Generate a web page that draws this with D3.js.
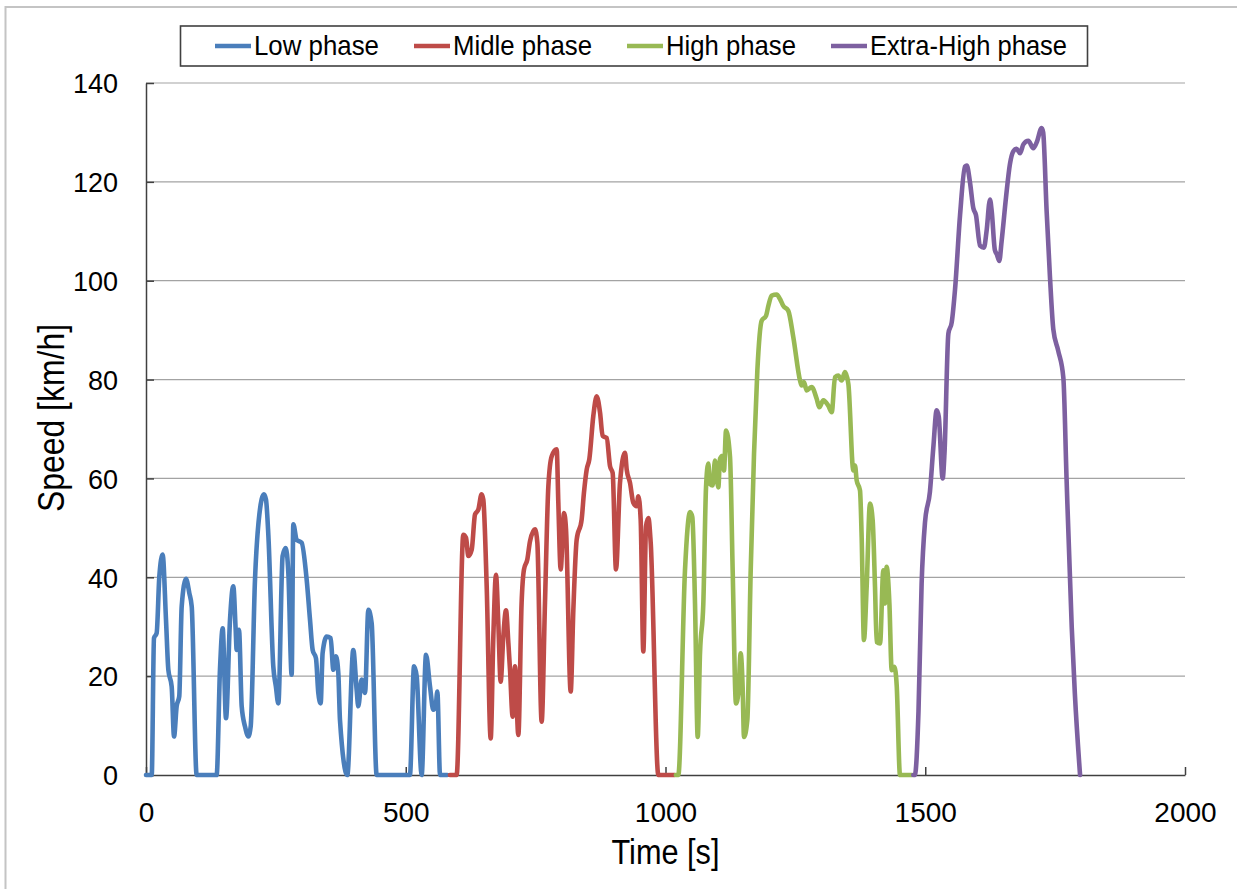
<!DOCTYPE html>
<html>
<head>
<meta charset="utf-8">
<script src="https://cdn.jsdelivr.net/npm/d3@7"></script>
<style>
  html, body { margin: 0; padding: 0; background: #fff; }
  svg { display: block; font-family: "Liberation Sans", Arial, sans-serif; }
</style>
</head>
<body>
<svg id="chart" width="1237" height="889"></svg>
<script>
// ---- Data (time [s], speed [km/h]) ----
const phaseNames = ["Low phase", "Midle phase", "High phase", "Extra-High phase"];
const phaseColors = ["#4a7ebb", "#be4b48", "#98b954", "#7d60a0"];

const lowPhase = [[0,0],[11,0],[15.4,27.7],[20.5,28.7],[25.7,40.2],[32,44.6],[38.5,31.4],[43,21.3],[49.4,17.9],[54,7.8],[59,13.9],[64,15.9],[68.7,34.1],[77,39.7],[83.4,36.8],[88,34.1],[97.5,0],[136,0],[142.4,21.3],[147.6,29.7],[154,11.5],[161.7,31.4],[168,38.2],[172.6,29.4],[174.5,25.3],[179,29.4],[184.2,13.9],[190.6,9.8],[197,7.8],[201.5,9.8],[209.8,39.5],[218.2,52.7],[227,56.8],[231,55.7],[235.5,48.6],[245,22],[250,17.9],[254.7,14.5],[263,44.3],[269,45.9],[274,40.9],[280.4,20.3],[283.6,50.7],[290,47.6],[299.6,47],[309.3,39.5],[315.7,31.4],[320.8,25.3],[327.2,23.6],[331.7,16.6],[336.2,14.5],[340,24.7],[347.8,28],[355.5,27.7],[360.6,21.3],[365.7,24],[370.2,20.6],[373.4,11.1],[387.5,0],[399,25.3],[405.5,17.2],[408.7,13.9],[415,19.3],[421.6,16.6],[428,33.4],[434.4,30.7],[444,0],[508,0],[516,22],[521,20],[530.6,0],[539,24.3],[546.7,17.9],[553,13.2],[557.6,13.9],[560.8,16.9],[566,0],[580,0]];

const midlePhase = [[585,0],[598,0],[610.8,48.6],[616,48],[620.5,44.3],[627,45.6],[633.3,52.7],[639.7,53.7],[646,56.8],[649.3,55.7],[655.8,38.2],[663.5,7.4],[668.6,28],[673.7,40.5],[678.2,30.7],[682.7,18.9],[687.8,28],[693,33.3],[697.5,26.7],[700.7,21.3],[705.8,11.8],[710.3,22],[716.7,8.1],[723,34.8],[727.6,41.6],[734,43.6],[739.2,47.3],[748.8,49.7],[753.3,47],[761.6,10.8],[768,34.8],[774.5,58.4],[781,64.5],[790.5,65.9],[793.7,55.1],[798.2,41.6],[804.6,53],[808.5,49.7],[817.5,16.9],[822.6,33.4],[829,47.6],[838.6,51.7],[843,57.1],[848.3,61.8],[853.4,63.9],[861,72.6],[867.5,76.6],[874,73.3],[879,68.6],[886.8,68.2],[893.2,62.5],[898.3,61.1],[904.7,41.6],[912.4,59.1],[922,65.2],[925.3,61.8],[931.7,59.1],[938,55.1],[944.5,54.4],[947.7,56.4],[952.2,51.7],[957.3,25],[962.5,50.3],[967,52],[971.5,47],[986.2,0],[1018,0]];

const highPhase = [[1020,0],[1024.7,0],[1037.5,41.4],[1047.2,53.2],[1051.6,52.2],[1056.8,34.7],[1062,7.7],[1066.4,24.6],[1072.8,34.7],[1078,58.2],[1082.4,63],[1085.7,58.9],[1090.8,58.6],[1095.3,63.6],[1101.7,58.2],[1104.9,64],[1110,64.6],[1112.6,61.6],[1116.5,69.7],[1124.2,64.3],[1129.3,41.4],[1135.7,14.5],[1140.2,16.5],[1144.7,24.6],[1148.5,17.8],[1151.1,7.7],[1157.5,11.1],[1164,41.4],[1170.4,65],[1176.8,81.8],[1185.1,91.9],[1193.5,92.9],[1198,94.9],[1204.4,97],[1214,97.2],[1220.4,96.3],[1226.8,94.9],[1236.4,93.9],[1246,88.6],[1259,79.8],[1262,78.8],[1266.6,79.5],[1271.7,77.8],[1281.4,78.5],[1291,76.1],[1296,74.4],[1303.8,75.8],[1313.4,74.7],[1320,73.4],[1326.3,80.5],[1332.7,80.8],[1339,79.8],[1345.5,81.5],[1352,79.1],[1361.6,61.6],[1364.8,62.6],[1368,59.6],[1374.4,57.6],[1377.6,48.1],[1382,27.3],[1387.2,38],[1393.6,54.9],[1398.8,51.5],[1403.3,38],[1406.5,26.9],[1413,26.6],[1419.3,41.4],[1422.5,34.7],[1425.7,42.1],[1431,34.7],[1435.4,21.2],[1440.5,21.9],[1445,18.2],[1451.4,0],[1475,0]];

const extraHighPhase = [[1477,0],[1480,0],[1487,12.9],[1493,38.7],[1499.5,51.1],[1509,57.3],[1515.5,66.2],[1522,73.8],[1526,72.5],[1533.5,60],[1537,65],[1544.5,89.3],[1551,91.6],[1557.3,98.2],[1567,113.3],[1576.5,123.1],[1580,123.3],[1586,120],[1592.5,114.7],[1597.6,113.3],[1605.4,107.1],[1613,106.7],[1618,110],[1624.6,116.4],[1628,114],[1634,106.2],[1638,105.3],[1642.5,104],[1647,108],[1655.5,116.9],[1663,123.6],[1669.6,126.2],[1676,126.7],[1682.4,125.8],[1689,127.6],[1698.4,128.3],[1708,126.8],[1714.6,128],[1724,130.9],[1727,130],[1733.6,114.2],[1740,100.9],[1746.5,90.2],[1756,85.8],[1765.8,80.4],[1772,60],[1782,29.8],[1788,16.4],[1798,0]];

const xTicks = [0, 500, 1000, 1500, 2000];
const yTicks = [0, 20, 40, 60, 80, 100, 120, 140];
const xTitle = "Time [s]";
const yTitle = "Speed [km/h]";

// ---- Layout ----
const svg = d3.select("#chart");
const plot = { left: 146, right: 1185, top: 83, bottom: 775 };
const x = d3.scaleLinear().domain([0, 2000]).range([plot.left, plot.right]);
const y = d3.scaleLinear().domain([0, 140]).range([plot.bottom, plot.top]);

svg.append("rect").attr("width", 1237).attr("height", 889).attr("fill", "#fff");
// outer chart-area border (extends beyond the right/bottom of the picture)
svg.append("rect").attr("x", 5.5).attr("y", 7).attr("width", 1300).attr("height", 1000)
  .attr("fill", "none").attr("stroke", "#c4c4c4").attr("stroke-width", 2);

// gridlines
svg.append("g").selectAll("line").data(yTicks.filter(d => d > 0)).join("line")
  .attr("x1", plot.left).attr("x2", plot.right)
  .attr("y1", d => y(d)).attr("y2", d => y(d))
  .attr("stroke", "#a3a3a3").attr("stroke-width", 1.2);

// axes
const fmt = d3.format("d");
const yAxis = svg.append("g").attr("transform", `translate(${plot.left},0)`)
  .call(d3.axisLeft(y).tickValues(yTicks).tickFormat(fmt).tickSizeInner(-8).tickSizeOuter(0).tickPadding(28));
const xAxis = svg.append("g").attr("transform", `translate(0,${plot.bottom})`)
  .call(d3.axisBottom(x).tickValues(xTicks).tickFormat(fmt).tickSizeInner(-8).tickSizeOuter(0).tickPadding(27));

[yAxis, xAxis].forEach(g => {
  g.select(".domain").attr("stroke", "#404040").attr("stroke-width", 1.5);
  g.selectAll(".tick line").attr("stroke", "#404040").attr("stroke-width", 1.5);
  g.selectAll(".tick text").attr("fill", "#000").style("font-size", "27px")
    .style("font-family", '"Liberation Sans", Arial, sans-serif');
});
yAxis.selectAll(".tick text").attr("dy", "0.36em");
xAxis.selectAll(".tick text").attr("dy", "0.71em").style("font-size", "28px");

// series lines
const line = d3.line().x(d => x(d[0])).y(d => y(d[1])).curve(d3.curveMonotoneX);
const series = [lowPhase, midlePhase, highPhase, extraHighPhase];
svg.append("g").selectAll("path").data(series).join("path")
  .attr("d", line)
  .attr("fill", "none")
  .attr("stroke", (d, i) => phaseColors[i])
  .attr("stroke-width", 4.6)
  .attr("stroke-linejoin", "round")
  .attr("stroke-linecap", "round");

// axis titles
svg.append("text").text(xTitle)
  .attr("x", 665.5).attr("y", 864).attr("text-anchor", "middle")
  .attr("textLength", 108).attr("lengthAdjust", "spacingAndGlyphs")
  .style("font-size", "35px").attr("fill", "#000");
svg.append("text").text(yTitle)
  .attr("transform", "translate(64,418) rotate(-90)")
  .attr("text-anchor", "middle")
  .attr("textLength", 188).attr("lengthAdjust", "spacingAndGlyphs")
  .style("font-size", "36px").attr("fill", "#000");

// legend
const legend = svg.append("g");
legend.append("rect").attr("x", 180.5).attr("y", 26).attr("width", 907).attr("height", 40)
  .attr("fill", "#fff").attr("stroke", "#404040").attr("stroke-width", 1.6);
const legendTextWidths = [125, 139, 130, 197];
let cx = 215;
phaseNames.forEach((name, i) => {
  legend.append("line").attr("x1", cx).attr("x2", cx + 36).attr("y1", 46).attr("y2", 46)
    .attr("stroke", phaseColors[i]).attr("stroke-width", 4.6);
  legend.append("text").text(name)
    .attr("x", cx + 39).attr("y", 55)
    .attr("textLength", legendTextWidths[i]).attr("lengthAdjust", "spacingAndGlyphs")
    .style("font-size", "28px").attr("fill", "#000");
  cx += 39 + legendTextWidths[i] + 35;
});
</script>
</body>
</html>
